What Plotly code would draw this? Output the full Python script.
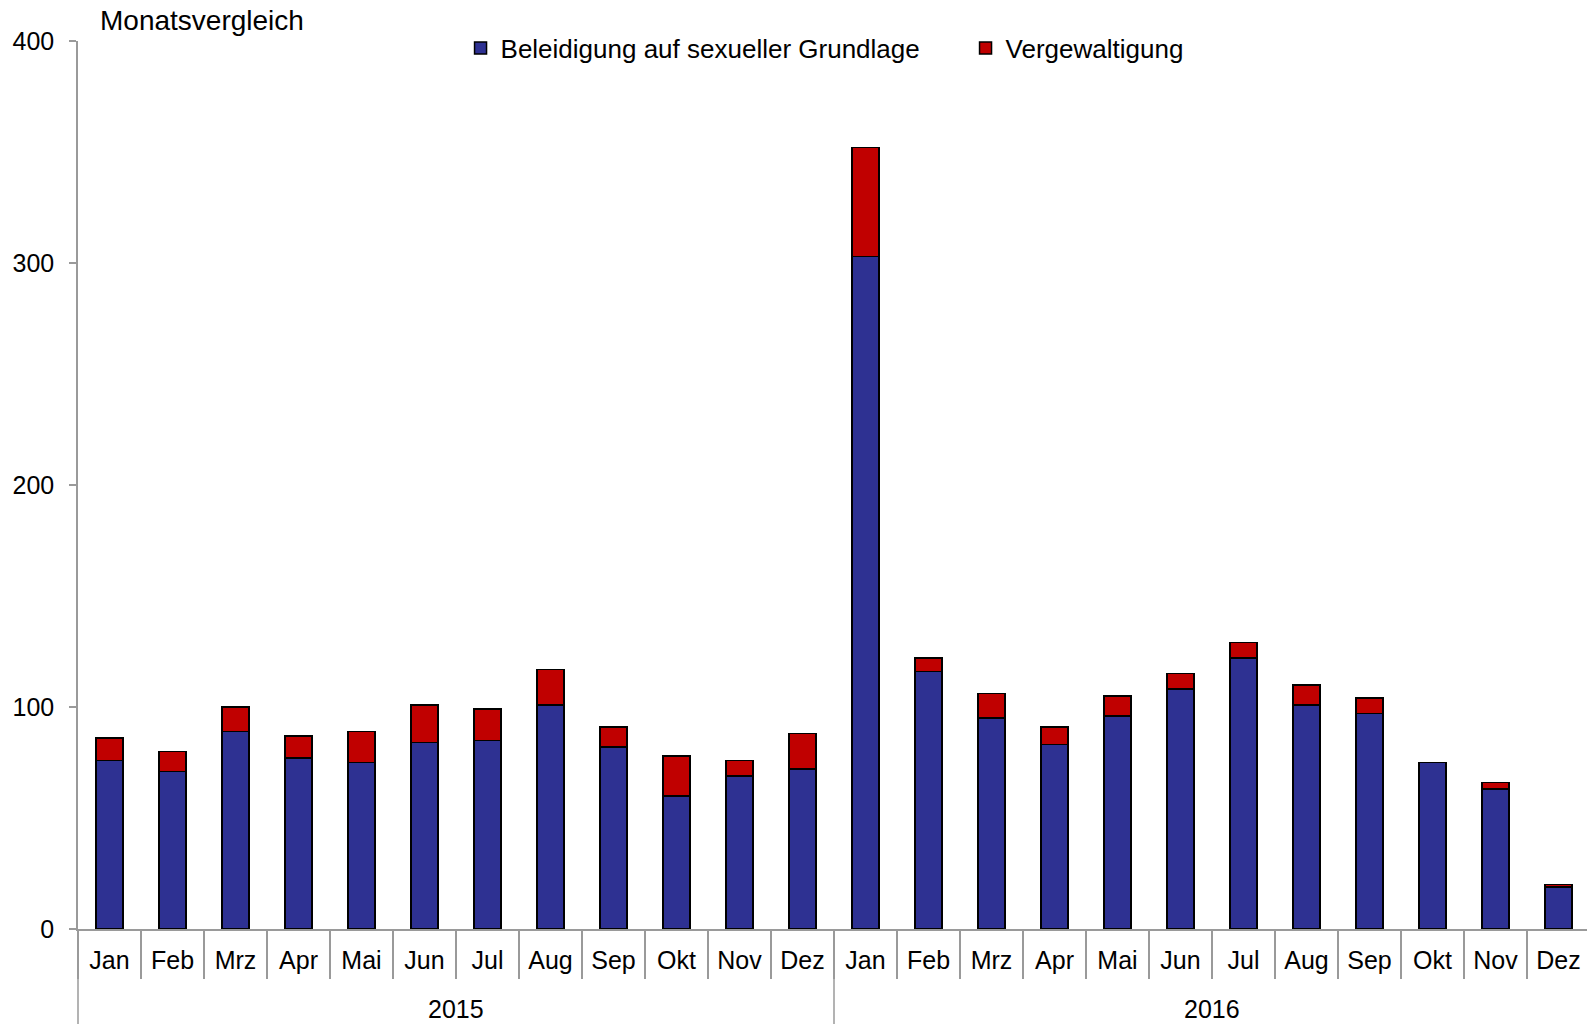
import plotly.graph_objects as go

years = ["2015"] * 12 + ["2016"] * 12
months = ["Jan", "Feb", "Mrz", "Apr", "Mai", "Jun", "Jul", "Aug", "Sep", "Okt", "Nov", "Dez"] * 2
beleidigung = [76, 71, 89, 77, 75, 84, 85, 101, 82, 60, 69, 72,
               303, 116, 95, 83, 96, 108, 122, 101, 97, 75, 63, 19]
vergewaltigung = [10, 9, 11, 10, 14, 17, 14, 16, 9, 18, 7, 16,
                  49, 6, 11, 8, 9, 7, 7, 9, 7, 0, 3, 1]
y_ticks = [0, 100, 200, 300, 400]

FONT = "Liberation Sans, Arial, sans-serif"
AXIS_COL = "#9a9a9a"

keys = [f"{m} {y}" for m, y in zip(months, years)]
n = len(keys)
x_range = [-0.5, n - 0.5]

fig = go.Figure()
fig.add_trace(go.Bar(
    x=keys, y=beleidigung, name="Beleidigung auf sexueller Grundlage",
    marker=dict(color="#2E3192", line=dict(color="black", width=1.5)),
))
fig.add_trace(go.Bar(
    x=keys, y=vergewaltigung, name="Vergewaltigung",
    marker=dict(color="#C00000", line=dict(color="black", width=1.5)),
))

# year group labels and dividers (derived from category indices)
year_list = list(dict.fromkeys(years))
annotations = [dict(text="Monatsvergleich", xref="paper", yref="paper", x=0.013, y=1.0236,
                    xanchor="left", yanchor="middle", showarrow=False, font=dict(size=28))]
shapes = []
bounds = set()
for yr in year_list:
    idx = [i for i, y in enumerate(years) if y == yr]
    annotations.append(dict(text=yr, xref="x", yref="paper", x=sum(idx) / len(idx), y=-0.090,
                            xanchor="center", yanchor="middle", showarrow=False, font=dict(size=25)))
    bounds.add(min(idx) - 0.5)
    bounds.add(max(idx) + 0.5)
for b in sorted(bounds):
    xp = (b - x_range[0]) / (x_range[1] - x_range[0])
    shapes.append(dict(type="line", xref="paper", yref="paper", x0=xp, x1=xp, y0=0, y1=-0.12,
                       line=dict(color=AXIS_COL, width=1.5)))

fig.update_layout(
    width=1587, height=1016,
    barmode="stack", bargap=0.57,
    plot_bgcolor="white", paper_bgcolor="white",
    margin=dict(l=70, r=5, t=33, b=95),
    font=dict(family=FONT, size=25, color="black"),
    showlegend=True,
    legend=dict(orientation="h", x=0.587, xanchor="center", y=0.992, yanchor="middle",
                traceorder="normal", font=dict(size=26), bgcolor="rgba(0,0,0,0)",
                entrywidth=460, entrywidthmode="pixels"),
    annotations=annotations,
    shapes=shapes,
)
fig.update_yaxes(range=[0, 400], tickvals=y_ticks, ticks="outside", ticklen=7, tickwidth=1.5,
                 tickcolor=AXIS_COL, showline=True, linecolor=AXIS_COL, linewidth=1.5,
                 showgrid=False, zeroline=False, tickfont=dict(size=25), ticklabelstandoff=10)
fig.update_xaxes(type="category", range=x_range, tickvals=keys, ticktext=months,
                 showline=True, linecolor=AXIS_COL, linewidth=1.5,
                 ticks="outside", tickson="boundaries", ticklen=48, tickwidth=1.5, tickcolor=AXIS_COL,
                 tickfont=dict(size=25), ticklabelstandoff=8)

fig.write_html("out.html")
